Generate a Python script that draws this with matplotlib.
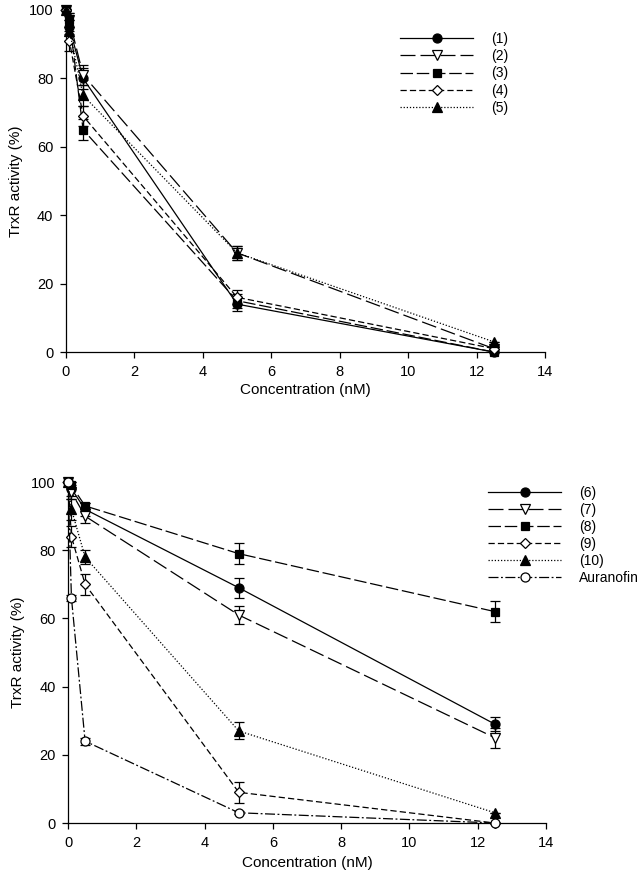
import matplotlib
matplotlib.use("Agg")
import matplotlib.pyplot as plt
from matplotlib.lines import Line2D

plt.rcParams['font.family'] = ['Liberation Sans', 'DejaVu Sans']

conc = [0, 0.1, 0.5, 5, 12.5]

# Top panel
top_labels = ["(1)", "(2)", "(3)", "(4)", "(5)"]
top_vals = [
    [100, 95, 80, 14, 0],
    [100, 97, 81, 29, 1],
    [100, 97, 65, 15, 0],
    [100, 91, 69, 16, 1],
    [100, 94, 75, 29, 3],
]
top_err = [
    [0, 2, 3, 2, 0],
    [0, 2, 3, 2, 0],
    [0, 2, 3, 2, 0],
    [0, 3, 3, 2, 0],
    [0, 3, 3, 2, 0],
]

# Bottom panel
bot_labels = ["(6)", "(7)", "(8)", "(9)", "(10)", "Auranofin"]
bot_vals = [
    [100, 98, 92, 69, 29],
    [100, 97, 90, 61, 25],
    [100, 99, 93, 79, 62],
    [100, 84, 70, 9, 0],
    [100, 92, 78, 27, 3],
    [100, 66, 24, 3, 0],
]
bot_err = [
    [0, 2, 2, 3, 2],
    [0, 2, 2, 2.5, 3],
    [0, 1, 1, 3, 3],
    [0, 3, 3, 3, 0],
    [0, 3, 2, 2.5, 0],
    [0, 1, 1, 0.5, 0],
]

styles = [
    dict(marker='o', mfc='black', ls='-'),
    dict(marker='v', mfc='white', ls=(0, (12, 4))),
    dict(marker='s', mfc='black', ls=(0, (10, 3))),
    dict(marker='D', mfc='white', ls=(0, (5, 2.5))),
    dict(marker='^', mfc='black', ls=(0, (1, 1.5))),
    dict(marker='o', mfc='white', ls=(0, (8, 2, 1.5, 2))),
]
msizes = {'o': 6.5, 'v': 7, 's': 6, 'D': 5.5, '^': 7}

fig = plt.figure(figsize=(6.4, 8.84), dpi=100)
ax1 = fig.add_axes([0.1031, 0.6018, 0.7484, 0.3869])
ax2 = fig.add_axes([0.1063, 0.0690, 0.7469, 0.3857])


def draw(ax, vals, errs, labels):
    handles = []
    for i, (v, e, lab) in enumerate(zip(vals, errs, labels)):
        st = styles[i]
        ax.errorbar(conc, v, yerr=e, color='black', lw=0.9, ls=st['ls'],
                    marker=st['marker'], mfc=st['mfc'], mec='black', mew=0.9,
                    ms=msizes[st['marker']], capsize=3.5, elinewidth=0.9,
                    capthick=0.9, clip_on=False, zorder=3)
        handles.append(Line2D([], [], color='black', lw=0.9, ls=st['ls'],
                              marker=st['marker'], mfc=st['mfc'], mec='black',
                              mew=0.9, ms=msizes[st['marker']], label=lab))
    ax.set_xlim(0, 14)
    ax.set_ylim(0, 100)
    ax.set_xticks(range(0, 15, 2))
    ax.set_yticks(range(0, 101, 20))
    for s in ['top', 'right']:
        ax.spines[s].set_visible(False)
    for s in ['left', 'bottom']:
        ax.spines[s].set_linewidth(0.9)
    ax.tick_params(direction='out', length=4, width=0.9, labelsize=10.5, pad=5)
    ax.set_xlabel('Concentration (nM)', fontsize=11, labelpad=2)
    ax.set_ylabel('TrxR activity (%)', fontsize=11, labelpad=4)
    return handles


h1 = draw(ax1, top_vals, top_err, top_labels)
h2 = draw(ax2, bot_vals, bot_err, bot_labels)

ax1.xaxis.set_label_coords(0.5, -0.092)
ax2.xaxis.set_label_coords(0.5, -0.097)

fig.legend(handles=h1, loc='upper left', bbox_to_anchor=(0.617, 0.970),
           frameon=False, fontsize=10, handlelength=5.25,
           handletextpad=1.3, labelspacing=0.23, borderaxespad=0)
fig.legend(handles=h2, loc='upper left', bbox_to_anchor=(0.754, 0.4565),
           frameon=False, fontsize=10, handlelength=5.25,
           handletextpad=1.3, labelspacing=0.22, borderaxespad=0)

fig.savefig('out.png', dpi=100)
